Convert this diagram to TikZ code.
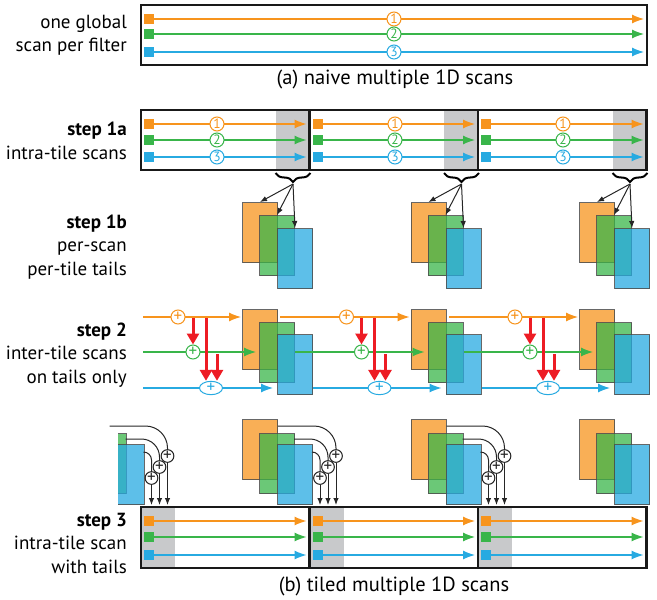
\documentclass[tikz,border=0pt]{standalone}
\usepackage{fontspec}
\setmainfont{PT Sans}
\usetikzlibrary{arrows.meta,decorations.pathreplacing,shapes.geometric}
\definecolor{scanorange}{HTML}{F7941D}
\definecolor{scangreen}{HTML}{39B54A}
\definecolor{scanblue}{HTML}{27AAE1}
\definecolor{tailgray}{HTML}{C8C9CB}
\definecolor{addred}{HTML}{ED1C24}
\tikzset{
    tilebox/.style={draw=black!90, line width=2.6pt},
    scan/.style={draw=#1, line width=1.2pt, -{Latex[length=12pt, width=9pt]}},
    seed/.style={fill=#1, minimum width=10pt, minimum height=10.5pt, inner sep=0pt},
    numc/.style={circle, draw=#1, text=#1, fill=white, line width=1pt, minimum size=14pt, inner sep=0pt, font=\fontsize{13.5}{13.5}\selectfont},
    addc/.style={circle, draw=#1, text=#1, fill=white, line width=1pt, minimum size=14pt, inner sep=0pt, font=\fontsize{17}{17}\selectfont},
    tail/.style={draw=black!70, draw opacity=0.85, fill=#1, fill opacity=0.75, line width=1pt, minimum width=35pt, minimum height=60pt, inner sep=0pt, anchor=north west},
    redarr/.style={draw=addred, line width=3pt, -{Triangle[length=11pt, width=12pt]}},
    feed/.style={draw=black!85, line width=1pt},
    steplabel/.style={anchor=east, align=right, inner sep=0pt, font=\fontsize{19}{23.5}\selectfont},
    caption/.style={font=\fontsize{20.5}{20.5}\selectfont}
}
\begin{document}
\begin{tikzpicture}[x=1pt, y=-1pt]
    \useasboundingbox (0,0) rectangle (657,600);

    \node[steplabel] (lbla) at (127,35) {one global\\scan per filter};
    \foreach \c/\y/\n in {scanorange/19/1, scangreen/34/2, scanblue/52/3} {
        \node[seed=\c] (a-s\n) at (149,\y) {};
        \coordinate (a-e\n) at (644,\y);
        \draw[scan=\c] (a-s\n) -- (a-e\n);
        \node[numc=\c] (a-n\n) at (394,\y) {\n};
    }
    \draw[tilebox] (141,5) rectangle (647,65);
    \node[caption] (capa) at (395,79) {(a) naive multiple 1D scans};

    \node[steplabel] (lbl1a) at (127,141) {\textbf{step 1a}\\intra-tile scans};
    \foreach \k/\l/\r/\m in {0/141/309.5/217, 1/309.5/478/395, 2/478/646.5/563} {
        \fill[tailgray] (\r-34,110) rectangle (\r,170);
        \foreach \c/\y/\n in {scanorange/124/1, scangreen/140/2, scanblue/157/3} {
            \node[seed=\c] (i-s\k\n) at (\l+8,\y) {};
            \coordinate (i-e\k\n) at (\r-3,\y);
            \draw[scan=\c] (i-s\k\n) -- (i-e\k\n);
            \node[numc=\c] (i-n\k\n) at (\m,\y) {\n};
        }
        \draw[tilebox] (\l,110) rectangle (\r,170);
        \coordinate (brace-l\k) at (\r-34,173);
        \coordinate (brace-r\k) at (\r+1,173);
        \draw[decorate, decoration={brace, mirror, amplitude=9pt}, line width=2pt] (brace-l\k) -- (brace-r\k);
        \coordinate (brace-tip\k) at (\r-16.5,184);
    }

    \node[steplabel] (lbl1b) at (127,247) {\textbf{step 1b}\\per-scan\\per-tile tails};
    \foreach \k/\x in {0/242, 1/410.5, 2/579} {
        \node[tail=scanorange] (p-o\k) at (\x,202) {};
        \node[tail=scangreen] (p-g\k) at (\x+17,215) {};
        \node[tail=scanblue] (p-b\k) at (\x+35,228) {};
        \draw[feed, -{Latex[length=7pt, width=5.5pt]}] (brace-tip\k) -- (p-o\k.north);
        \draw[feed, -{Latex[length=7pt, width=5.5pt]}] (brace-tip\k) -- (p-g\k.north);
        \draw[feed, -{Latex[length=7pt, width=5.5pt]}] (brace-tip\k) -- (p-b\k.north);
    }

    \node[steplabel] (lbl2) at (127,355) {\textbf{step 2}\\inter-tile scans\\on tails only};
    \foreach \k/\x/\so/\sg/\sb in {0/242/143/143/143, 1/410.5/280/295/313, 2/579/449/464/482} {
        \node[tail=scanorange] (q-o\k) at (\x,309) {};
        \node[tail=scangreen] (q-g\k) at (\x+17,322) {};
        \node[tail=scanblue] (q-b\k) at (\x+35,334) {};
        \coordinate (q-so\k) at (\so,317);
        \coordinate (q-sg\k) at (\sg,352);
        \coordinate (q-sb\k) at (\sb,388);
        \coordinate (q-eo\k) at (\x-1,317);
        \coordinate (q-eg\k) at (\x+14,352);
        \coordinate (q-eb\k) at (\x+31,388);
        \draw[scan=scanorange] (q-so\k) -- (q-eo\k);
        \draw[scan=scangreen] (q-sg\k) -- (q-eg\k);
        \draw[scan=scanblue] (q-sb\k) -- (q-eb\k);
        \node[addc=scanorange] (q-ao\k) at (\x-64,317) {+};
        \node[addc=scangreen] (q-ag\k) at (\x-49,352) {+};
        \node[addc=scanblue, ellipse, minimum width=23pt, minimum height=13pt] (q-ab\k) at (\x-31,388) {+};
        \coordinate (q-r1\k) at (\x-49,318);
        \coordinate (q-r2\k) at (\x-36,318);
        \coordinate (q-r3\k) at (\x-25,354);
        \draw[redarr] (q-r1\k) -- (q-ag\k);
        \draw[redarr] (q-r2\k) -- (q-r2\k |- q-ab\k.north);
        \draw[redarr] (q-r3\k) -- (q-r3\k |- q-ab\k.north);
    }

    \node[steplabel] (lbl3) at (127,543) {\textbf{step 3}\\intra-tile scan\\with tails};
    \begin{scope}
        \clip (118,400) rectangle (250,510);
        \node[tail=scangreen] (r-gm) at (90.5,433) {};
        \node[tail=scanblue] (r-bm) at (108.5,444) {};
    \end{scope}
    \foreach \k/\x in {0/242, 1/410.5, 2/579} {
        \node[tail=scanorange] (r-o\k) at (\x,419) {};
        \node[tail=scangreen] (r-g\k) at (\x+17,433) {};
        \node[tail=scanblue] (r-b\k) at (\x+35,444) {};
    }
    \foreach \k/\x/\l in {0/73.5/141, 1/242/309.5, 2/410.5/478} {
        \coordinate (r-so\k) at (\x+36,426);
        \coordinate (r-sg\k) at (\x+52,439);
        \coordinate (r-sb\k) at (\x+70,452);
        \node[addc=black!85, minimum size=12.5pt] (r-ao\k) at (\l+26.5,456) {+};
        \node[addc=black!85, minimum size=12.5pt] (r-ag\k) at (\l+18.5,467) {+};
        \node[addc=black!85, minimum size=12.5pt] (r-ab\k) at (\l+10.5,478) {+};
        \draw[feed, rounded corners=22pt] (r-so\k) -| (r-ao\k);
        \draw[feed, rounded corners=18pt] (r-sg\k) -| (r-ag\k);
        \draw[feed, rounded corners=8pt] (r-sb\k) -| (r-ab\k);
        \coordinate (r-to\k) at (\l+26.5,505);
        \coordinate (r-tg\k) at (\l+18.5,505);
        \coordinate (r-tb\k) at (\l+10.5,505);
        \draw[feed, -{Latex[length=7pt, width=5.5pt]}] (r-ao\k) -- (r-to\k);
        \draw[feed, -{Latex[length=7pt, width=5.5pt]}] (r-ag\k) -- (r-tg\k);
        \draw[feed, -{Latex[length=7pt, width=5.5pt]}] (r-ab\k) -- (r-tb\k);
    }
    \foreach \k/\l/\r in {0/141/309.5, 1/309.5/478, 2/478/646.5} {
        \fill[tailgray] (\l,507) rectangle (\l+34,568);
        \foreach \c/\y/\n in {scanorange/521/1, scangreen/537/2, scanblue/555/3} {
            \node[seed=\c] (w-s\k\n) at (\l+8,\y) {};
            \coordinate (w-e\k\n) at (\r-3,\y);
            \draw[scan=\c] (w-s\k\n) -- (w-e\k\n);
        }
        \draw[tilebox] (\l,507) rectangle (\r,568);
    }
    \node[caption] (capb) at (394,586) {(b) tiled multiple 1D scans};
\end{tikzpicture}
\end{document}
